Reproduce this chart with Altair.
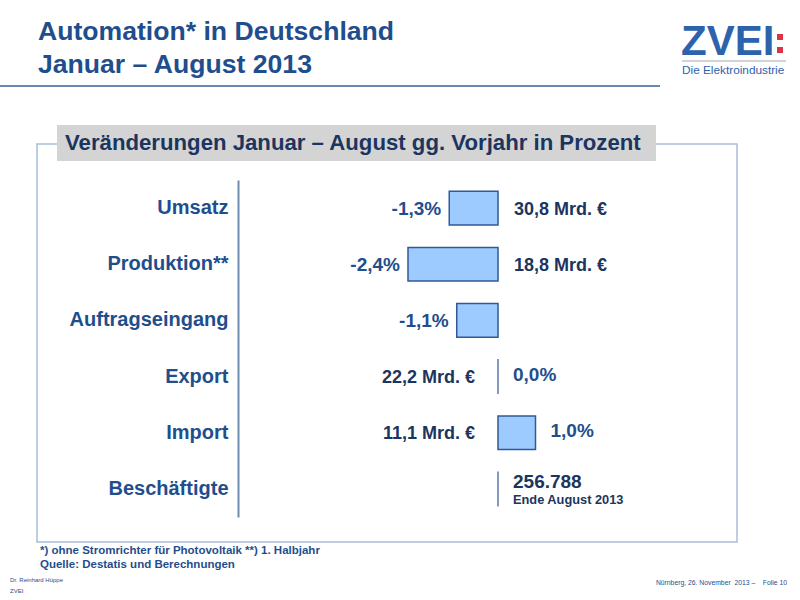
import altair as alt
import pandas as pd

# Kennzahlen Automation Januar - August 2013
categories = ["Umsatz", "Produktion**", "Auftragseingang", "Export", "Import", "Beschäftigte"]
change_pct = [-1.3, -2.4, -1.1, 0.0, 1.0, None]
volume_text = ["30,8 Mrd. €", "18,8 Mrd. €", "", "22,2 Mrd. €", "11,1 Mrd. €", ""]
volume_side = ["right", "right", "", "left", "left", ""]
employees = "256.788"
employees_note = "Ende August 2013"

BLUE = "#1F4E8D"
NAVY = "#1B3560"
FONT = "Liberation Sans"
NB = "\u00a0"

rows = pd.DataFrame({
    "cat": categories,
    "pct": change_pct,
    "vol": volume_text,
    "side": volume_side,
})
rows["label"] = [
    "" if v is None or pd.isna(v) else f"{v:.1f}%".replace(".", ",") for v in rows["pct"]
]
rows["base"] = 0.0

# x: 0 % sits at the bar baseline, 37.5 px per percentage point
xs = alt.Scale(domain=[-498 / 37.5, 302 / 37.5], nice=False, zero=False)
ys = alt.Scale(domain=categories, range=[180, 517], paddingInner=0.4, paddingOuter=0.2)
Y = alt.Y(
    "cat:N",
    sort=categories,
    scale=ys,
    axis=alt.Axis(
        orient="left", offset=-238, title=None, ticks=False, domainColor="#6F8DB0",
        domainWidth=2, labelFont=FONT, labelFontWeight="bold", labelFontSize=20,
        labelColor=BLUE, labelPadding=10, labelLimit=300,
    ),
)

base = alt.Chart(rows)

# frame and subtitle box
frame = alt.Chart(pd.DataFrame({"a": [0]})).mark_rect(
    fill=None, stroke="#A9BDD6", strokeWidth=1.5
).encode(x=alt.value(37), x2=alt.value(737), y=alt.value(144), y2=alt.value(542))

sub_box = alt.Chart(pd.DataFrame({"a": [0]})).mark_rect(fill="#D4D4D4").encode(
    x=alt.value(57), x2=alt.value(656), y=alt.value(125), y2=alt.value(161)
)
sub_text = alt.Chart(pd.DataFrame({"t": ["Veränderungen Januar – August gg. Vorjahr in Prozent"]})).mark_text(
    font=FONT, fontWeight="bold", fontSize=22.2, color=NAVY, align="left", baseline="middle"
).encode(x=alt.value(65), y=alt.value(143), text="t:N")

# page title
title = alt.Chart(pd.DataFrame({"t": ["Automation* in Deutschland", "Januar – August 2013"],
                                "yy": [40, 73]})).mark_text(
    font=FONT, fontWeight="bold", fontSize=26.6, color=BLUE, align="left", baseline="alphabetic"
).encode(x=alt.value(38), y=alt.Y("yy:Q", scale=None), text="t:N")

title_rule = alt.Chart(pd.DataFrame({"a": [0]})).mark_rule(color="#6A88AE", strokeWidth=2).encode(
    x=alt.value(0), x2=alt.value(660), y=alt.value(86)
)

# logo
logo = alt.Chart(pd.DataFrame({"t": ["ZVEI"]})).mark_text(
    font=FONT, fontWeight="bold", fontSize=42, color="#2D62AC", align="left", baseline="alphabetic"
).encode(x=alt.value(681), y=alt.value(55), text="t:N")
logo_dots = alt.Chart(pd.DataFrame({"yy": [37, 50]})).mark_square(
    color="#D9344A", size=36, opacity=1
).encode(x=alt.value(780), y=alt.Y("yy:Q", scale=None))
logo_rule = alt.Chart(pd.DataFrame({"a": [0]})).mark_rule(color="#A0A8B0", strokeWidth=1).encode(
    x=alt.value(682), x2=alt.value(786), y=alt.value(61)
)
logo_sub = alt.Chart(pd.DataFrame({"t": ["Die Elektroindustrie"]})).mark_text(
    font=FONT, fontSize=11.8, color="#2D62AC", align="left", baseline="middle"
).encode(x=alt.value(682), y=alt.value(70), text="t:N")

# bars
bars = base.transform_filter("datum.pct != null && datum.pct != 0").mark_bar(
    fill="#9ECBFF", stroke="#2F5A96", strokeWidth=1.5
).encode(x=alt.X("pct:Q", scale=xs, axis=None), x2="base:Q", y=Y)

zero_marks = base.transform_filter("datum.pct == null || datum.pct == 0").mark_tick(
    orient="vertical", size=35, thickness=2, color="#4A6FA5"
).encode(x=alt.X("base:Q", scale=xs, axis=None), y=Y)

pct_neg = base.transform_filter("datum.pct != null && datum.pct < 0").mark_text(
    font=FONT, fontWeight="bold", fontSize=19, color=BLUE, align="right", baseline="middle", dx=-8, dy=1
).encode(x=alt.X("pct:Q", scale=xs, axis=None), y=Y, text="label:N")

pct_pos = base.transform_filter("datum.pct != null && datum.pct >= 0").mark_text(
    font=FONT, fontWeight="bold", fontSize=19, color=BLUE, align="left", baseline="middle", dx=15, dy=-2
).encode(x=alt.X("pct:Q", scale=xs, axis=None), y=Y, text="label:N")

vol_right = base.transform_filter("datum.side == 'right'").mark_text(
    font=FONT, fontWeight="bold", fontSize=18, color=NAVY, align="left", baseline="middle", dx=16, dy=2
).encode(x=alt.X("base:Q", scale=xs, axis=None), y=Y, text="vol:N")

vol_left = base.transform_filter("datum.side == 'left'").mark_text(
    font=FONT, fontWeight="bold", fontSize=18, color=NAVY, align="right", baseline="middle", dx=-23, dy=1
).encode(x=alt.X("base:Q", scale=xs, axis=None), y=Y, text="vol:N")

emp = alt.Chart(pd.DataFrame({"cat": ["Beschäftigte"], "base": [0.0], "t": [employees]})).mark_text(
    font=FONT, fontWeight="bold", fontSize=19, color=NAVY, align="left", baseline="middle", dx=15, dy=-7
).encode(x=alt.X("base:Q", scale=xs, axis=None), y=Y, text="t:N")
emp_note = alt.Chart(pd.DataFrame({"cat": ["Beschäftigte"], "base": [0.0], "t": [employees_note]})).mark_text(
    font=FONT, fontWeight="bold", fontSize=12.8, color=NAVY, align="left", baseline="middle", dx=15, dy=11
).encode(x=alt.X("base:Q", scale=xs, axis=None), y=Y, text="t:N")

# footnotes
notes = alt.Chart(pd.DataFrame({
    "t": ["*) ohne Stromrichter für Photovoltaik **) 1. Halbjahr", "Quelle: Destatis und Berechnungen"],
    "yy": [551, 565],
})).mark_text(font=FONT, fontWeight="bold", fontSize=11.5, color=BLUE, align="left", baseline="middle").encode(
    x=alt.value(40), y=alt.Y("yy:Q", scale=None), text="t:N"
)
footer_left = alt.Chart(pd.DataFrame({"t": ["Dr. Reinhard Hüppe", "ZVEI"], "yy": [580, 591]})).mark_text(
    font=FONT, fontSize=6, color=BLUE, align="left", baseline="middle"
).encode(x=alt.value(10), y=alt.Y("yy:Q", scale=None), text="t:N")
footer_right = alt.Chart(pd.DataFrame({
    "t": [f"Nürnberg, 26. November{NB}{NB}2013{NB}–{NB}{NB}{NB}{NB}Folie 10"]
})).mark_text(
    font=FONT, fontSize=6.8, color=BLUE, align="right", baseline="middle"
).encode(x=alt.value(787), y=alt.value(583), text="t:N")

chart = alt.layer(
    frame, sub_box, sub_text, title, title_rule, logo, logo_dots, logo_rule, logo_sub,
    bars, zero_marks, pct_neg, pct_pos, vol_right, vol_left, emp, emp_note,
    notes, footer_left, footer_right,
).properties(
    width=800, height=600, padding=0, autosize=alt.AutoSizeParams(type="none"), background="white"
).configure_view(stroke=None)

chart.save("out.html", embed_options={"renderer": "svg", "actions": False})
